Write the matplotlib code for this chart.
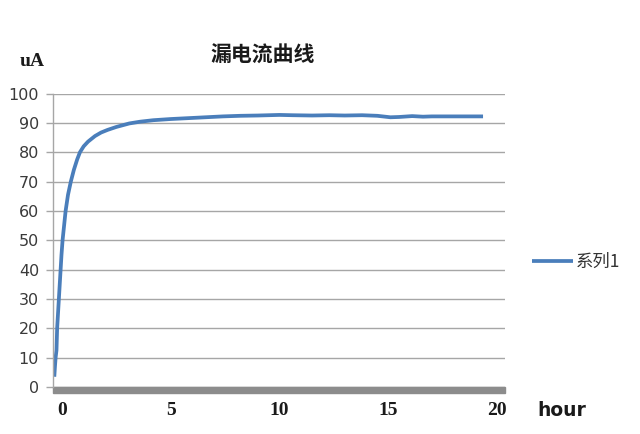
import matplotlib
matplotlib.use("Agg")
import matplotlib.pyplot as plt
from matplotlib.patches import Rectangle

# Data
hours = [-0.35, -0.32, -0.29, -0.25, -0.22, -0.18, -0.14, -0.10, -0.06, -0.02, 0.03,
         0.10, 0.17, 0.28, 0.41, 0.55, 0.70, 0.83, 1.0, 1.2, 1.52, 1.8, 2.1, 2.5,
         3.1, 3.6, 4.2, 5.0, 5.8, 6.6, 7.4, 8.2, 9.0, 10.0, 10.6, 11.5, 12.3, 13.0,
         13.8, 14.5, 15.1, 15.5, 16.1, 16.6, 17.0, 17.8, 18.6, 19.36]
current = [3.5, 7.0, 10.0, 12.5, 20.0, 25.0, 30.0, 35.0, 40.0, 45.0, 50.0,
           55.0, 60.0, 65.5, 70.0, 74.0, 77.5, 80.0, 82.0, 83.6, 85.5, 86.7, 87.6, 88.6,
           89.8, 90.4, 90.9, 91.3, 91.6, 91.9, 92.2, 92.4, 92.5, 92.7, 92.6, 92.5, 92.6, 92.5,
           92.6, 92.4, 91.9, 92.0, 92.3, 92.1, 92.2, 92.2, 92.2, 92.2]
series_name = "系列1"
title = "漏电流曲线"
y_ticks = [0, 10, 20, 30, 40, 50, 60, 70, 80, 90, 100]
x_ticks = [0, 5, 10, 15, 20]

fig = plt.figure(figsize=(6.4, 4.34), dpi=100)
W, H = 640, 434
ax = fig.add_axes([53 / W, 1 - 387 / H, (505 - 53) / W, (387 - 93.5) / H])

ax.plot(hours, current, color="#4a7ebb", linewidth=2.7, solid_capstyle="butt",
        label=series_name)

ax.set_xlim(-0.41, 20.37)
ax.set_ylim(0, 100)
ax.set_yticks(y_ticks)
ax.set_xticks(x_ticks)
ax.yaxis.grid(True, color="#a6a6a6", linewidth=1.0)
ax.set_axisbelow(True)

for s in ["top", "right", "bottom"]:
    ax.spines[s].set_visible(False)
ax.spines["left"].set_color("#a6a6a6")
ax.spines["left"].set_linewidth(1.0)

ax.tick_params(axis="y", direction="out", length=5, width=1.0, color="#a6a6a6",
               pad=5, labelsize=11.5, labelcolor="#3a3a3a")
ax.tick_params(axis="x", length=0, pad=11, labelsize=14, labelcolor="#1a1a1a")
for lab in ax.get_xticklabels():
    lab.set_fontfamily("Liberation Serif")
    lab.set_fontweight("bold")

# Thick gray base bar below y=0
ah = 387 - 93.5
ax.add_patch(Rectangle((0, -6 / ah), 1, 6 / ah, transform=ax.transAxes,
                       color="#8c8c8c", clip_on=False, zorder=1))

fig.text(263 / W, 1 - 55 / H, title, ha="center", va="center", fontsize=15,
         fontweight="bold", family=["Noto Sans CJK SC", "DejaVu Sans"], color="#1a1a1a")
fig.text(32 / W, 1 - 62 / H, "uA", ha="center", va="center", fontsize=14,
         fontweight="bold", family="Liberation Serif", color="#1a1a1a")
fig.text(562 / W, 1 - 410 / H, "hour", ha="center", va="center", fontsize=13.5,
         fontweight="bold", family="DejaVu Sans", color="#1a1a1a")

leg = ax.legend(loc="center left", bbox_to_anchor=(532 / W, 1 - 262 / H),
                bbox_transform=fig.transFigure, frameon=False, borderpad=0,
                borderaxespad=0, handlelength=2.35, handletextpad=0.15,
                prop={"family": ["Noto Sans CJK SC", "DejaVu Sans"], "size": 12.5})
for t in leg.get_texts():
    t.set_color("#333333")

fig.savefig("out.png", dpi=100)
